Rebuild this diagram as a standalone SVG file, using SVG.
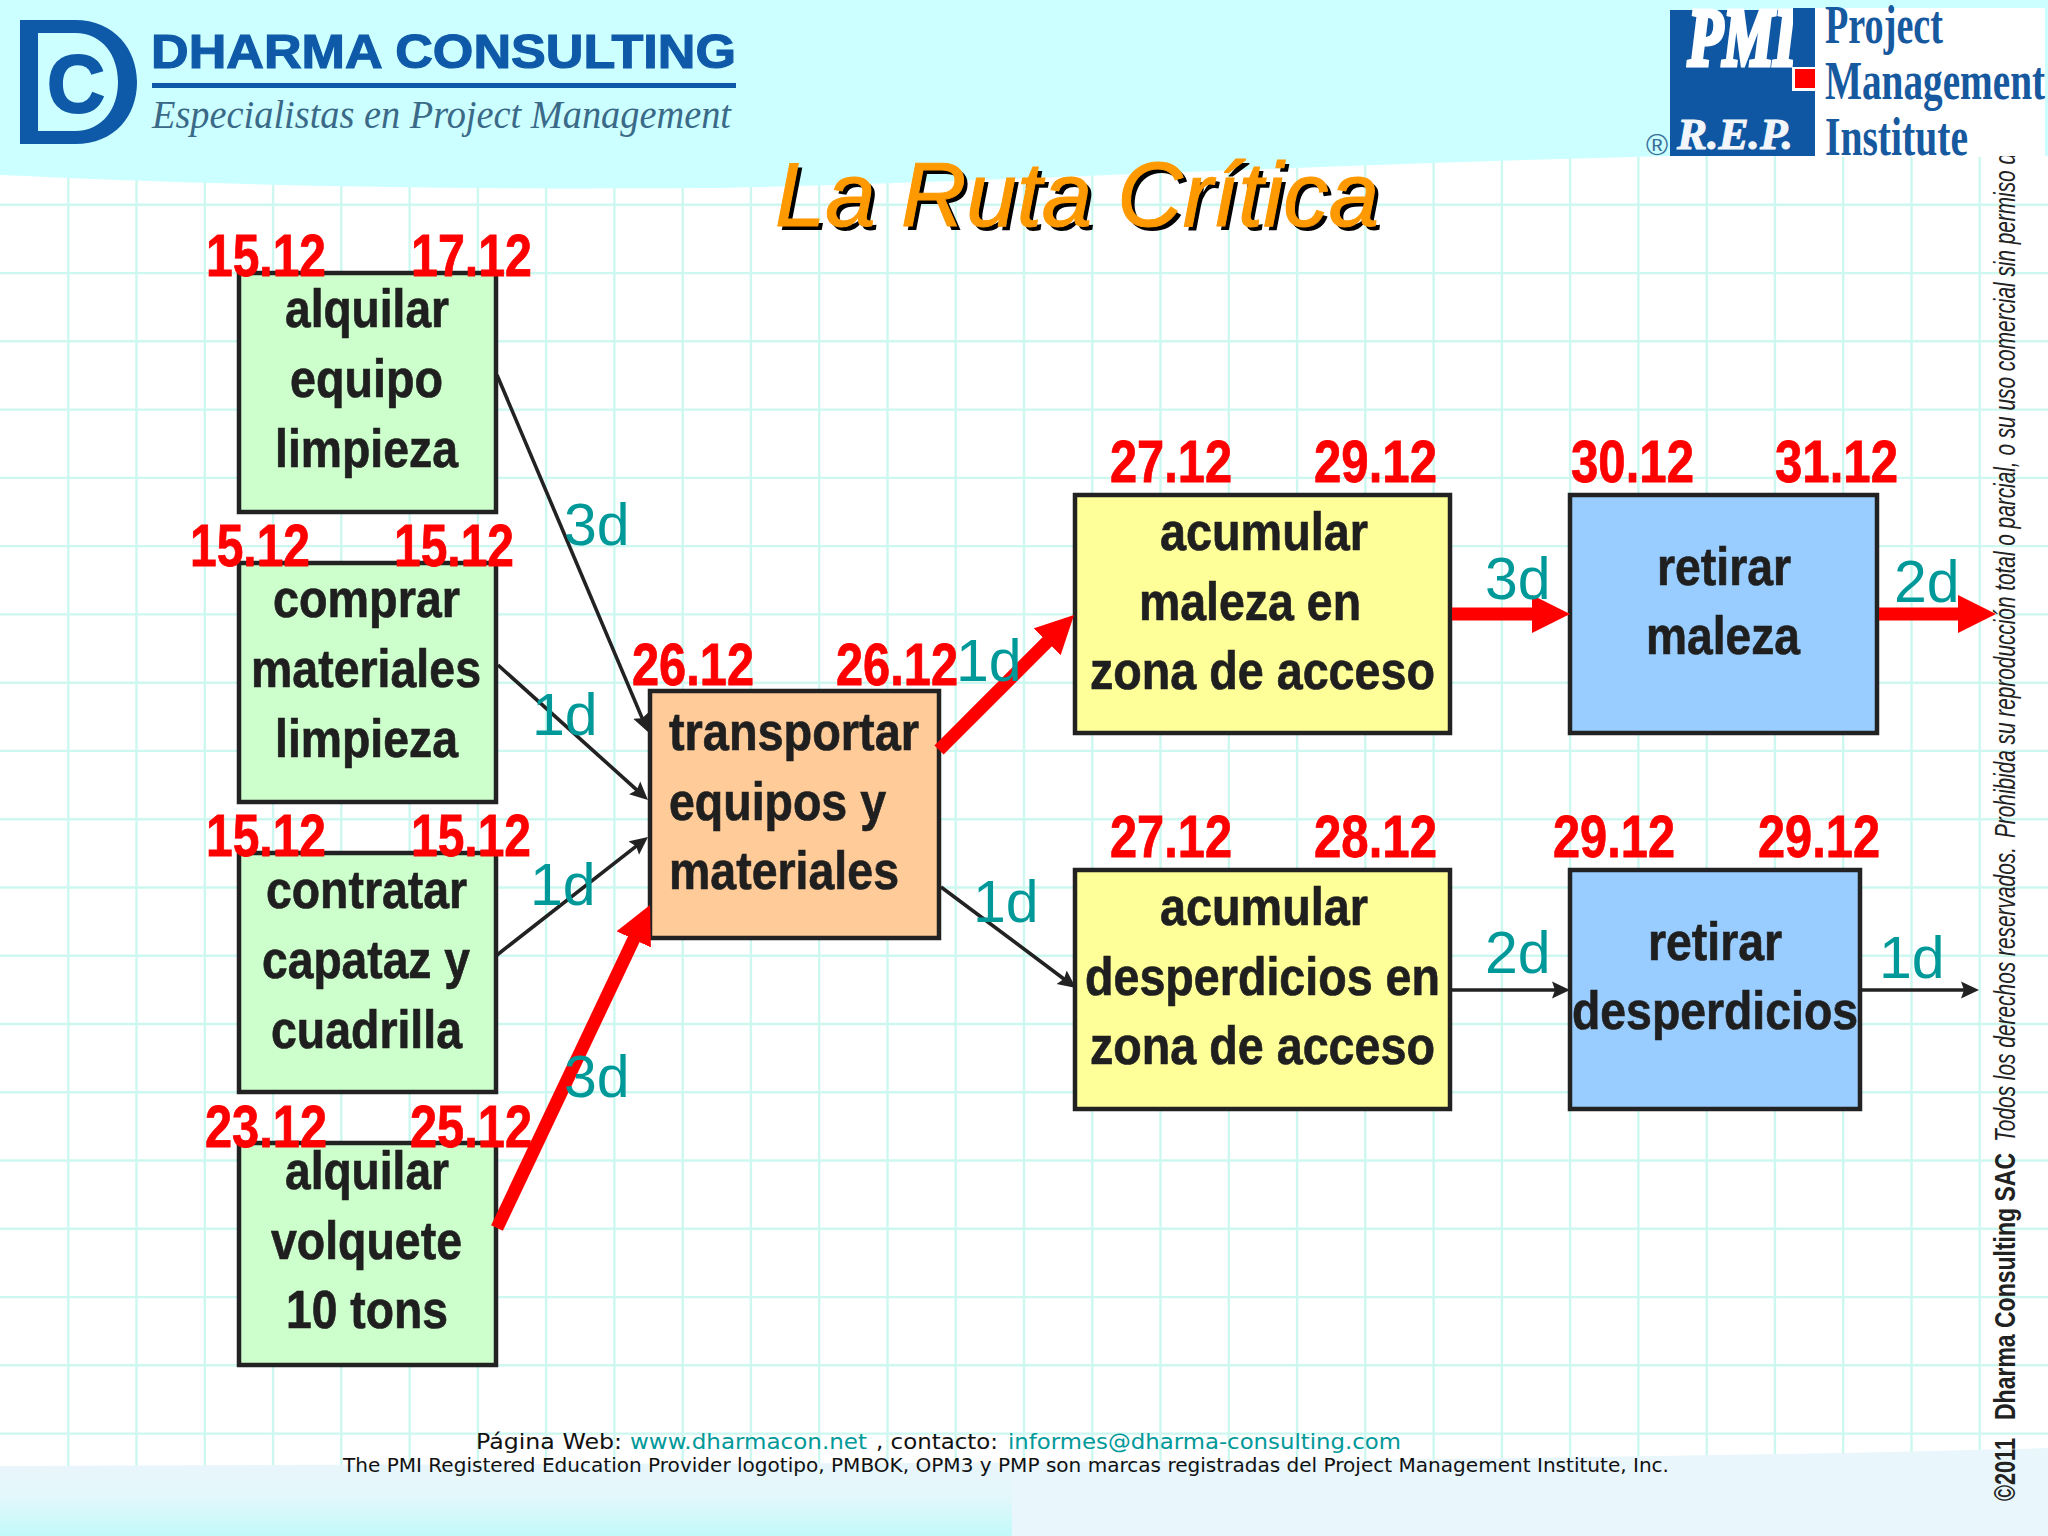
<svg xmlns="http://www.w3.org/2000/svg" width="2048" height="1536" viewBox="0 0 2048 1536">
<style>
.g{stroke:#cdf8f0;stroke-width:2.4}
.box{stroke:#222;stroke-width:4.5}
.t{font:bold 54px "Liberation Sans",Arial,sans-serif;fill:#1f1f1f;stroke:#1f1f1f;stroke-width:.7}
.d{font:bold 59px "Liberation Sans",Arial,sans-serif;fill:#ff0000;stroke:#ff0000;stroke-width:.8}
.l{font:59px "Liberation Sans",Arial,sans-serif;fill:#009999}
.thin{stroke:#222;stroke-width:3.6;fill:none;marker-end:url(#mt)}
.red{stroke:#ff0000;stroke-width:13;fill:none;marker-end:url(#mr)}
.f{font:22px "DejaVu Sans",sans-serif;fill:#111}
.s{font:29px "Liberation Sans",Arial,sans-serif;fill:#222}
.pm{font:bold 54px "Liberation Serif",serif;fill:#16599f}
</style>
<defs>
<marker id="mt" markerUnits="userSpaceOnUse" markerWidth="18" markerHeight="18" refX="10" refY="9" orient="auto"><path d="M0,0.5L18,9L0,17.5L3,9z" fill="#222"/></marker>
<marker id="mr" markerUnits="userSpaceOnUse" markerWidth="38" markerHeight="38" refX="20" refY="19" orient="auto"><path d="M0,0L38,19L0,38z" fill="#ff0000"/></marker>
<linearGradient id="fg" x1="0" y1="0" x2="0" y2="1"><stop offset="0" stop-color="#c2fafa" stop-opacity="0"/><stop offset=".45" stop-color="#c2fafa" stop-opacity=".15"/><stop offset="1" stop-color="#c2fafa"/></linearGradient>
<clipPath id="cr"><rect x="1980" y="156" width="68" height="700"/></clipPath>
</defs>
<rect width="2048" height="1536" fill="#fff"/>
<g id="grid">
<path class="g" d="M68.3,0V1536M136.5,0V1536M204.8,0V1536M273.1,0V1536M341.3,0V1536M409.6,0V1536M477.9,0V1536M546.1,0V1536M614.4,0V1536M682.7,0V1536M750.9,0V1536M819.2,0V1536M887.5,0V1536M955.7,0V1536M1024,0V1536M1092.3,0V1536M1160.5,0V1536M1228.8,0V1536M1297.1,0V1536M1365.3,0V1536M1433.6,0V1536M1501.9,0V1536M1570.1,0V1536M1638.4,0V1536M1706.7,0V1536M1774.9,0V1536M1843.2,0V1536M1911.5,0V1536M1979.7,0V1536"/>
<path class="g" d="M0,204.8H2048M0,273.1H2048M0,341.3H2048M0,409.6H2048M0,477.9H2048M0,546.1H2048M0,614.4H2048M0,682.7H2048M0,750.9H2048M0,819.2H2048M0,887.5H2048M0,955.7H2048M0,1024H2048M0,1092.3H2048M0,1160.5H2048M0,1228.8H2048M0,1297.1H2048M0,1365.3H2048M0,1433.6H2048"/>
</g>
<g id="footer-band">
<path d="M0,1466C400,1464 800,1464 1100,1462C1500,1459 1800,1455 2048,1448V1536H0z" fill="#e9f6fb"/>
<path d="M0,1466C400,1464 800,1464 1012,1463V1536H0z" fill="url(#fg)"/>
</g>
<g id="header">
<path d="M0,0H2048V156H1670C1300,165 900,186 700,188C400,190 200,184 0,175z" fill="#ccffff"/>
<rect x="1815" y="8" width="230" height="149" fill="#fff"/>
</g>
<g id="logo-dharma">
<path fill-rule="evenodd" d="M20,20H75C115,20 137,50 137,82C137,116 115,144 75,144H20zM38,33V131H75C103,131 118,108 118,82C118,56 103,33 75,33z" fill="#0f5aa8"/>
<text x="47" y="112" font-family="'Liberation Sans',Arial,sans-serif" font-weight="bold" font-size="82" fill="#0f5aa8" stroke="#0f5aa8" stroke-width="2" textLength="58" lengthAdjust="spacingAndGlyphs">C</text>
<text x="151" y="68" font-family="'Liberation Sans',Arial,sans-serif" font-weight="bold" font-size="49" fill="#0f5aa8" stroke="#0f5aa8" stroke-width="1.2" textLength="585" lengthAdjust="spacingAndGlyphs">DHARMA CONSULTING</text>
<rect x="152" y="83" width="584" height="5" fill="#0f5aa8"/>
<text x="152" y="128" font-family="'Liberation Serif',serif" font-style="italic" font-size="40" fill="#3a6a88" textLength="579" lengthAdjust="spacingAndGlyphs">Especialistas en Project Management</text>
</g>
<g id="logo-pmi">
<rect x="1670" y="10" width="145" height="146" fill="#0f57a3"/>
<text x="1688" y="65" font-family="'Liberation Serif',serif" font-weight="bold" font-style="italic" font-size="82" fill="#fff" stroke="#fff" stroke-width="5" textLength="108" lengthAdjust="spacingAndGlyphs">PMI</text>
<rect x="1793" y="8" width="22" height="59" fill="#0f57a3"/>
<rect x="1792" y="67" width="23" height="24" fill="#fff"/>
<rect x="1795" y="69" width="20" height="19" fill="#ff0000"/>
<text x="1677" y="149" font-family="'Liberation Serif',serif" font-weight="bold" font-style="italic" font-size="44" fill="#f2f6fb" stroke="#f2f6fb" stroke-width="1" textLength="116" lengthAdjust="spacingAndGlyphs">R.E.P.</text>
<text x="1646" y="155" font-family="'Liberation Sans',Arial,sans-serif" font-size="30" fill="#3a6f9a">®</text>
<text class="pm" x="1825" y="43" textLength="118" lengthAdjust="spacingAndGlyphs">Project</text>
<text class="pm" x="1825" y="99" textLength="220" lengthAdjust="spacingAndGlyphs">Management</text>
<text class="pm" x="1825" y="155" textLength="143" lengthAdjust="spacingAndGlyphs">Institute</text>
</g>
<g id="title" font-family="'Liberation Sans',Arial,sans-serif" font-style="italic" font-size="90">
<text x="779" y="230" fill="#000" textLength="604" lengthAdjust="spacingAndGlyphs">La Ruta Crítica</text>
<text x="775" y="226" fill="#ff9900" stroke="#ff9900" stroke-width="1" textLength="604" lengthAdjust="spacingAndGlyphs">La Ruta Crítica</text>
</g>
<g id="node-alquilar-equipo">
<rect class="box" x="239" y="273" width="257" height="239" fill="#ccffcc"/>
<text class="t" x="285" y="327" textLength="164" lengthAdjust="spacingAndGlyphs">alquilar</text>
<text class="t" x="290" y="397" textLength="153" lengthAdjust="spacingAndGlyphs">equipo</text>
<text class="t" x="275" y="467" textLength="183" lengthAdjust="spacingAndGlyphs">limpieza</text>
<text class="d" x="206" y="276" textLength="120" lengthAdjust="spacingAndGlyphs">15.12</text>
<text class="d" x="411" y="276" textLength="121" lengthAdjust="spacingAndGlyphs">17.12</text>
</g>
<g id="node-comprar">
<rect class="box" x="239" y="563" width="257" height="239" fill="#ccffcc"/>
<text class="t" x="273" y="617" textLength="187" lengthAdjust="spacingAndGlyphs">comprar</text>
<text class="t" x="251" y="687" textLength="230" lengthAdjust="spacingAndGlyphs">materiales</text>
<text class="t" x="275" y="757" textLength="183" lengthAdjust="spacingAndGlyphs">limpieza</text>
<text class="d" x="190" y="566" textLength="120" lengthAdjust="spacingAndGlyphs">15.12</text>
<text class="d" x="394" y="566" textLength="120" lengthAdjust="spacingAndGlyphs">15.12</text>
</g>
<g id="node-contratar">
<rect class="box" x="239" y="853" width="257" height="239" fill="#ccffcc"/>
<text class="t" x="266" y="908" textLength="201" lengthAdjust="spacingAndGlyphs">contratar</text>
<text class="t" x="262" y="978" textLength="208" lengthAdjust="spacingAndGlyphs">capataz y</text>
<text class="t" x="271" y="1048" textLength="191" lengthAdjust="spacingAndGlyphs">cuadrilla</text>
<text class="d" x="206" y="856" textLength="120" lengthAdjust="spacingAndGlyphs">15.12</text>
<text class="d" x="411" y="856" textLength="120" lengthAdjust="spacingAndGlyphs">15.12</text>
</g>
<g id="node-alquilar-volquete">
<rect class="box" x="239" y="1143" width="257" height="222" fill="#ccffcc"/>
<text class="t" x="285" y="1189" textLength="164" lengthAdjust="spacingAndGlyphs">alquilar</text>
<text class="t" x="271" y="1259" textLength="191" lengthAdjust="spacingAndGlyphs">volquete</text>
<text class="t" x="286" y="1328" textLength="162" lengthAdjust="spacingAndGlyphs">10 tons</text>
<text class="d" x="205" y="1147" textLength="122" lengthAdjust="spacingAndGlyphs">23.12</text>
<text class="d" x="410" y="1147" textLength="122" lengthAdjust="spacingAndGlyphs">25.12</text>
</g>
<g id="node-transportar">
<rect class="box" x="650" y="691" width="289" height="247" fill="#ffcc99"/>
<text class="t" x="669" y="750" textLength="250" lengthAdjust="spacingAndGlyphs">transportar</text>
<text class="t" x="669" y="820" textLength="217" lengthAdjust="spacingAndGlyphs">equipos y</text>
<text class="t" x="669" y="889" textLength="230" lengthAdjust="spacingAndGlyphs">materiales</text>
<text class="d" x="632" y="685" textLength="122" lengthAdjust="spacingAndGlyphs">26.12</text>
<text class="d" x="836" y="685" textLength="122" lengthAdjust="spacingAndGlyphs">26.12</text>
</g>
<g id="node-acumular-maleza">
<rect class="box" x="1075" y="495" width="375" height="238" fill="#ffff99"/>
<text class="t" x="1160" y="550" textLength="208" lengthAdjust="spacingAndGlyphs">acumular</text>
<text class="t" x="1139" y="620" textLength="222" lengthAdjust="spacingAndGlyphs">maleza en</text>
<text class="t" x="1090" y="689" textLength="345" lengthAdjust="spacingAndGlyphs">zona de acceso</text>
<text class="d" x="1110" y="482" textLength="122" lengthAdjust="spacingAndGlyphs">27.12</text>
<text class="d" x="1314" y="482" textLength="123" lengthAdjust="spacingAndGlyphs">29.12</text>
</g>
<g id="node-retirar-maleza">
<rect class="box" x="1570" y="495" width="307" height="238" fill="#99ccff"/>
<text class="t" x="1657" y="585" textLength="134" lengthAdjust="spacingAndGlyphs">retirar</text>
<text class="t" x="1646" y="654" textLength="154" lengthAdjust="spacingAndGlyphs">maleza</text>
<text class="d" x="1571" y="482" textLength="123" lengthAdjust="spacingAndGlyphs">30.12</text>
<text class="d" x="1775" y="482" textLength="123" lengthAdjust="spacingAndGlyphs">31.12</text>
</g>
<g id="node-acumular-desperdicios">
<rect class="box" x="1075" y="870" width="375" height="239" fill="#ffff99"/>
<text class="t" x="1160" y="925" textLength="208" lengthAdjust="spacingAndGlyphs">acumular</text>
<text class="t" x="1085" y="995" textLength="355" lengthAdjust="spacingAndGlyphs">desperdicios en</text>
<text class="t" x="1090" y="1064" textLength="345" lengthAdjust="spacingAndGlyphs">zona de acceso</text>
<text class="d" x="1110" y="857" textLength="122" lengthAdjust="spacingAndGlyphs">27.12</text>
<text class="d" x="1314" y="857" textLength="123" lengthAdjust="spacingAndGlyphs">28.12</text>
</g>
<g id="node-retirar-desperdicios">
<rect class="box" x="1570" y="870" width="290" height="239" fill="#99ccff"/>
<text class="t" x="1648" y="960" textLength="134" lengthAdjust="spacingAndGlyphs">retirar</text>
<text class="t" x="1572" y="1029" textLength="286" lengthAdjust="spacingAndGlyphs">desperdicios</text>
<text class="d" x="1553" y="857" textLength="122" lengthAdjust="spacingAndGlyphs">29.12</text>
<text class="d" x="1758" y="857" textLength="122" lengthAdjust="spacingAndGlyphs">29.12</text>
</g>
<g id="connectors">
<line class="thin" x1="497" y1="375" x2="644.9" y2="724.6"/>
<line class="thin" x1="498" y1="665" x2="642" y2="794.6"/>
<line class="thin" x1="497" y1="955" x2="641.7" y2="841.9"/>
<line class="thin" x1="941" y1="887" x2="1069.6" y2="983.2"/>
<line class="thin" x1="1452" y1="990" x2="1562" y2="990"/>
<line class="thin" x1="1862" y1="990" x2="1971" y2="990"/>
<line class="red" x1="497" y1="1228" x2="642.3" y2="921.3"/>
<line class="red" x1="939" y1="750" x2="1061.3" y2="627.7"/>
<line class="red" x1="1452" y1="614" x2="1552" y2="614"/>
<line class="red" x1="1879" y1="614" x2="1978" y2="614"/>
<text class="l" x="564" y="545">3d</text>
<text class="l" x="532" y="735">1d</text>
<text class="l" x="530" y="905">1d</text>
<text class="l" x="564" y="1097">3d</text>
<text class="l" x="956" y="681">1d</text>
<text class="l" x="973" y="922">1d</text>
<text class="l" x="1485" y="599">3d</text>
<text class="l" x="1894" y="602">2d</text>
<text class="l" x="1485" y="973">2d</text>
<text class="l" x="1879" y="978">1d</text>
</g>
<g id="footer-text">
<text class="f" x="476" y="1449" textLength="146" lengthAdjust="spacingAndGlyphs">Página Web:</text>
<text class="f" x="630" y="1449" style="fill:#009999" textLength="237" lengthAdjust="spacingAndGlyphs">www.dharmacon.net</text>
<text class="f" x="876" y="1449" textLength="122" lengthAdjust="spacingAndGlyphs">, contacto:</text>
<text class="f" x="1008" y="1449" style="fill:#009999" textLength="393" lengthAdjust="spacingAndGlyphs">informes@dharma-consulting.com</text>
<text class="f" x="343" y="1472" style="font-size:20px" textLength="1326" lengthAdjust="spacingAndGlyphs">The PMI Registered Education Provider logotipo, PMBOK, OPM3 y PMP son marcas registradas del Project Management Institute, Inc.</text>
</g>
<g id="side-text">
<text class="s" transform="translate(2015,1501) rotate(-90)" textLength="63" lengthAdjust="spacingAndGlyphs" style="font-weight:bold">©2011</text>
<text class="s" transform="translate(2015,1420) rotate(-90)" textLength="267" lengthAdjust="spacingAndGlyphs" style="font-weight:bold">Dharma Consulting SAC</text>
<text class="s" transform="translate(2015,1142) rotate(-90)" textLength="295" lengthAdjust="spacingAndGlyphs" style="font-style:italic">Todos los derechos reservados.</text>
<g clip-path="url(#cr)"><text class="s" transform="translate(2015,838) rotate(-90)" textLength="685" lengthAdjust="spacingAndGlyphs" style="font-style:italic">Prohibida su reproducción total o parcial, o su uso comercial sin permiso d</text></g>
</g>
</svg>
